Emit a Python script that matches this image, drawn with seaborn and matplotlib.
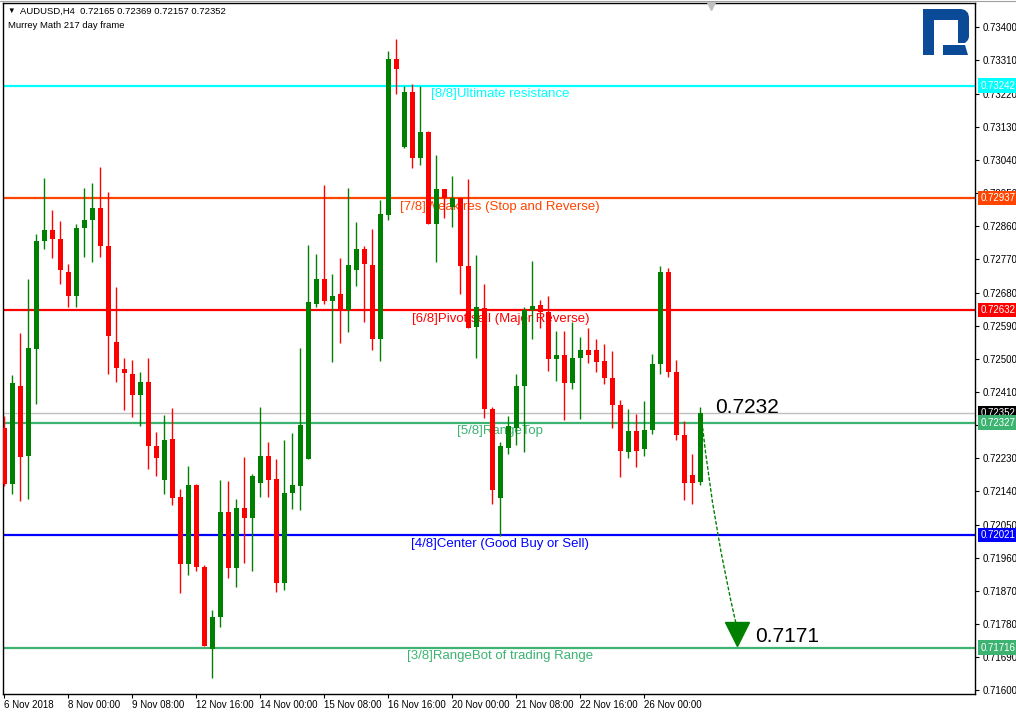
import matplotlib
matplotlib.use("Agg")
import matplotlib.pyplot as plt
import matplotlib.transforms as mtransforms
from matplotlib.patches import Polygon
from matplotlib.lines import Line2D
import seaborn as sns
import numpy as np
import pandas as pd

# AUDUSD H4 candles, oldest first
opens = [0.72311, 0.72159, 0.72427, 0.72235, 0.72526, 0.72819, 0.72850, 0.72826, 0.72736, 0.72670,
         0.72855, 0.72877, 0.72910, 0.72805, 0.72546, 0.72473, 0.72459, 0.72401, 0.72438, 0.72264,
         0.72172, 0.72283, 0.72126, 0.71942, 0.72158, 0.71936, 0.71711, 0.71799, 0.72084, 0.71931,
         0.72096, 0.72068, 0.72162, 0.72237, 0.72175, 0.71890, 0.72135, 0.72154, 0.72227, 0.72649,
         0.72718, 0.72656, 0.72677, 0.72632, 0.72741, 0.72797, 0.72755, 0.72555, 0.72891, 0.73314,
         0.73074, 0.73225, 0.73045, 0.73116, 0.72865, 0.72962, 0.72913, 0.72936, 0.72753, 0.72586,
         0.72639, 0.72365, 0.72121, 0.72259, 0.72311, 0.72425, 0.72632, 0.72646, 0.72627, 0.72499,
         0.72509, 0.72433, 0.72502, 0.72525, 0.72525, 0.72493, 0.72448, 0.72375, 0.72247, 0.72305,
         0.72255, 0.72307, 0.72485, 0.72736, 0.72465, 0.72294, 0.72185, 0.72165]
highs = [0.72345, 0.72457, 0.72571, 0.72718, 0.72840, 0.72992, 0.72905, 0.72875, 0.72758, 0.72866,
         0.72965, 0.72976, 0.73020, 0.72954, 0.72696, 0.72503, 0.72497, 0.72465, 0.72503, 0.72302,
         0.72348, 0.72367, 0.72147, 0.72210, 0.72160, 0.71940, 0.71818, 0.72171, 0.72169, 0.72120,
         0.72234, 0.72187, 0.72370, 0.72275, 0.72228, 0.72279, 0.72299, 0.72528, 0.72810, 0.72785,
         0.72973, 0.72729, 0.72775, 0.72965, 0.72872, 0.72805, 0.72853, 0.72931, 0.73335, 0.73368,
         0.73241, 0.73246, 0.73241, 0.73119, 0.73052, 0.72962, 0.72997, 0.72936, 0.72988, 0.72783,
         0.72702, 0.72370, 0.72275, 0.72345, 0.72459, 0.72640, 0.72765, 0.72661, 0.72670, 0.72576,
         0.72576, 0.72600, 0.72558, 0.72583, 0.72555, 0.72539, 0.72520, 0.72389, 0.72365, 0.72351,
         0.72385, 0.72514, 0.72753, 0.72747, 0.72497, 0.72330, 0.72241, 0.72369]
lows = [0.72156, 0.72134, 0.72114, 0.72119, 0.72376, 0.72798, 0.72775, 0.72704, 0.72640, 0.72640,
        0.72777, 0.72762, 0.72777, 0.72459, 0.72437, 0.72360, 0.72342, 0.72317, 0.72202, 0.72181,
        0.72132, 0.72103, 0.71863, 0.71912, 0.71923, 0.71719, 0.71633, 0.71771, 0.71904, 0.71880,
        0.71945, 0.71923, 0.72124, 0.72124, 0.71868, 0.71872, 0.72092, 0.72089, 0.72227, 0.72640,
        0.72650, 0.72490, 0.72542, 0.72573, 0.72697, 0.72601, 0.72523, 0.72494, 0.72877, 0.73220,
        0.73071, 0.73017, 0.73025, 0.72865, 0.72762, 0.72881, 0.72857, 0.72677, 0.72585, 0.72502,
        0.72339, 0.72105, 0.72019, 0.72242, 0.72267, 0.72246, 0.72553, 0.72584, 0.72467, 0.72439,
        0.72333, 0.72419, 0.72337, 0.72488, 0.72463, 0.72431, 0.72311, 0.72179, 0.72230, 0.72207,
        0.72237, 0.72296, 0.72459, 0.72451, 0.72280, 0.72116, 0.72106, 0.72157]
closes = [0.72159, 0.72433, 0.72233, 0.72528, 0.72821, 0.72850, 0.72824, 0.72741, 0.72670, 0.72856,
          0.72878, 0.72910, 0.72806, 0.72561, 0.72474, 0.72461, 0.72401, 0.72438, 0.72263, 0.72230,
          0.72280, 0.72121, 0.71942, 0.72158, 0.71934, 0.71719, 0.71800, 0.72084, 0.71931, 0.72096,
          0.72068, 0.72181, 0.72237, 0.72172, 0.71890, 0.72136, 0.72158, 0.72319, 0.72653, 0.72718,
          0.72656, 0.72671, 0.72632, 0.72755, 0.72797, 0.72757, 0.72555, 0.72894, 0.73314, 0.73286,
          0.73225, 0.73045, 0.73117, 0.72865, 0.72962, 0.72937, 0.72936, 0.72751, 0.72585, 0.72641,
          0.72365, 0.72143, 0.72262, 0.72317, 0.72427, 0.72632, 0.72643, 0.72627, 0.72499, 0.72509,
          0.72433, 0.72503, 0.72525, 0.72510, 0.72491, 0.72447, 0.72374, 0.72250, 0.72305, 0.72250,
          0.72307, 0.72485, 0.72736, 0.72463, 0.72294, 0.72162, 0.72162, 0.72352]

# Murrey Math levels
levels = [0.73242, 0.72937, 0.72632, 0.72327, 0.72021, 0.71716]
level_names = ["[8/8]Ultimate resistance", "[7/8]Weak res (Stop and Reverse)",
               "[6/8]Pivot sell (Major Reverse)", "[5/8]RangeTop",
               "[4/8]Center (Good Buy or Sell)", "[3/8]RangeBot of trading Range"]
level_colors = ["#00FFFF", "#FF4500", "#FF0000", "#3CB371", "#0000FF", "#3CB371"]

bid = 0.72352
forecast_from = 0.7232
forecast_to = 0.7171

date_labels = ["6 Nov 2018", "8 Nov 00:00", "9 Nov 08:00", "12 Nov 16:00", "14 Nov 00:00",
               "15 Nov 08:00", "16 Nov 16:00", "20 Nov 00:00", "21 Nov 08:00", "22 Nov 16:00",
               "26 Nov 00:00"]
price_ticks = [0.71600, 0.71690, 0.71780, 0.71870, 0.71960, 0.72050, 0.72140, 0.72230, 0.72320,
               0.72410, 0.72500, 0.72590, 0.72680, 0.72770, 0.72860, 0.72950, 0.73040, 0.73130,
               0.73220, 0.73310, 0.73400]

sns.set_theme(style="white")
plt.rcParams['font.family'] = ['Liberation Sans', 'DejaVu Sans']

df = pd.DataFrame({'open': opens, 'high': highs, 'low': lows, 'close': closes})
df['i'] = np.arange(len(df))
bull = df['close'] >= df['open']
cols = np.where(bull, '#008000', '#FF0000')

fig = plt.figure(figsize=(10.16, 7.14), dpi=100)
ax = fig.add_axes([3 / 1016, 20 / 714, 972 / 1016, 691 / 714])

# level lines + labels (chart is drawn in the foreground)
for lvl, name, c in zip(levels, level_names, level_colors):
    ax.axhline(lvl, color=c, lw=1.6, zorder=1)
    ax.annotate(name, xy=(62, lvl), xytext=(0, -2), textcoords='offset points',
                ha='center', va='top', color=c, fontsize=9.5, zorder=1.5)
ax.axhline(bid, color='#C0C0C0', lw=1, zorder=1)

# candles
ax.vlines(df['i'], df['low'], df['high'], colors=cols, lw=1, zorder=3)
body_lo = np.minimum(df['open'], df['close'])
body_h = np.maximum(np.abs(df['close'] - df['open']), 0.00003)
ax.bar(df['i'], body_h, bottom=body_lo, width=0.625, color=cols, lw=0, zorder=4)

# forecast arrow
last = len(df) - 1
ax.annotate('', xy=(last + 4.5, forecast_to + 0.00068), xytext=(last + 0.3, forecast_from - 0.00008),
            arrowprops=dict(arrowstyle='-', color='#008000', lw=1, linestyle=(0, (2, 2)),
                            connectionstyle='arc3,rad=0.03', shrinkA=0, shrinkB=0), zorder=5)
ax.plot([last + 4.55], [forecast_to + 0.00042], marker='v', markersize=17, color='#008000', zorder=5)
ax.text(last + 1.8, bid, f"{forecast_from:.4f}", fontsize=15, color='black', va='baseline', zorder=6)
ax.text(last + 6.8, forecast_to + 0.00020, f"{forecast_to:.4f}", fontsize=15, color='black',
        va='baseline', zorder=6)

ax.set_xlim(-0.16, 121.34)
ax.set_ylim(0.71590, 0.73466)
ax.set_xticks(range(0, len(date_labels) * 8, 8))
ax.set_xticklabels(date_labels, ha='left')
ax.set_yticks(price_ticks)
ax.set_yticklabels([f"{t:.5f}" for t in price_ticks])
ax.yaxis.tick_right()
ax.tick_params(axis='x', direction='out', length=3, width=0.8, pad=1.5, labelsize=7, colors='black')
ax.tick_params(axis='y', direction='out', length=3, width=0.8, pad=2.5, labelsize=7, colors='black')
ax.tick_params(bottom=True, right=True, left=False)
for s in ax.spines.values():
    s.set_color('black')
    s.set_linewidth(1)
ax.grid(False)

# price tags on the right axis
blend = mtransforms.blended_transform_factory(ax.transAxes, ax.transData)
tags = [(bid, 'black')] + list(zip(levels, level_colors))
for val, c in tags:
    ax.text(1.0056, val, f"{val:.5f}", transform=blend, fontsize=7, color='white',
            va='center', ha='left', clip_on=False, zorder=10,
            bbox=dict(boxstyle='square,pad=0.22', fc=c, ec='none'))

# header
last_row = df.iloc[-1]
fig.text(7 / 1016, 1 - 11.5 / 714, "\u25bc", fontsize=5.5, va='center', color='black')
fig.text(20 / 1016, 1 - 11.5 / 714,
         f"AUDUSD,H4  {last_row['open']:.5f} {last_row['high']:.5f} {last_row['low']:.5f} {last_row['close']:.5f}",
         fontsize=6.8, va='center', color='black')
fig.text(8 / 1016, 1 - 25 / 714, "Murrey Math 217 day frame", fontsize=6.8, va='center', color='black')

# small shift marker on the top edge
fig.add_artist(Line2D([711 / 1016], [1 - 6 / 714], marker='v', markersize=6, color='#C0C0C0',
                      transform=fig.transFigure))
fig.add_artist(Line2D([0, 1], [1 - 0.7 / 714, 1 - 0.7 / 714], color='#A0A0A0', lw=0.8,
                      transform=fig.transFigure))

# logo
lax = fig.add_axes([923 / 1016, 1 - 55 / 714, 46 / 1016, 46 / 714])
lax.set_xlim(0, 46)
lax.set_ylim(46, 0)
lax.axis('off')
blue = '#0b4a96'
lax.add_patch(Polygon([(0, 0), (38, 0), (42, 1), (45, 4), (46, 8), (46, 28), (45, 31), (42, 34),
                       (35, 34), (35, 11), (11, 11), (11, 46), (0, 46)],
                      closed=True, fc=blue, ec='none'))
lax.add_patch(Polygon([(20, 36), (42, 36), (45, 46), (20, 46)], closed=True, fc=blue, ec='none'))

fig.savefig('out.png', dpi=100)
